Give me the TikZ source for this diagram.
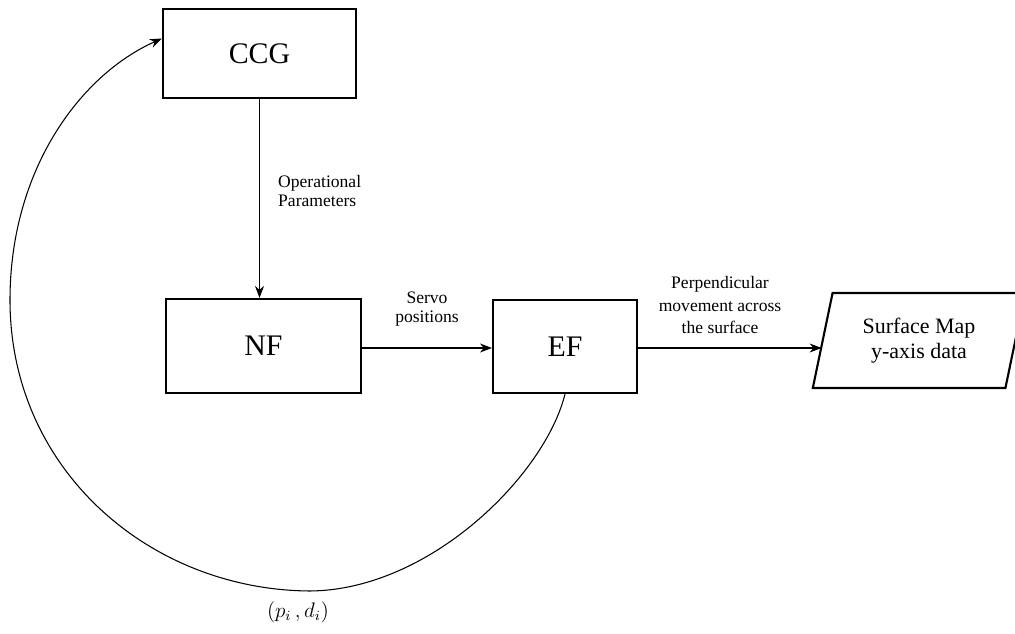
\documentclass[tikz,border=0pt]{standalone}
\usepackage{amsmath,amssymb}
\usepackage{fontspec}
\setmainfont{Liberation Serif}
\usetikzlibrary{arrows.meta,shapes.geometric}

\begin{document}
\begin{tikzpicture}[x=0.02cm, y=-0.02cm, >={Stealth[length=2.4mm,width=1.8mm]},
  box/.style={rectangle, draw, line width=1.2pt, font=\fontsize{17}{20}\selectfont},
  lbl/.style={align=center, font=\fontsize{10}{10.5}\selectfont},
  link/.style={->, line width=0.6pt}]
  \useasboundingbox (0,0) rectangle (1015,634);
  \node[box, minimum width=3.86cm, minimum height=1.78cm] (ccg) at (259.5, 53.5) {CCG};
  \node[box, minimum width=3.9cm, minimum height=1.88cm] (nf) at (263.5, 346) {NF};
  \node[box, minimum width=2.88cm, minimum height=1.86cm] (ef) at (565, 346.5) {EF};
  \node[trapezium, draw, line width=1.2pt, trapezium left angle=76, trapezium right angle=104,
    trapezium stretches=true, minimum width=4.28cm, minimum height=1.9cm, align=center,
    font=\fontsize{12.5}{16}\selectfont] (map) at (919, 340.5) {\raisebox{-6pt}{\shortstack{Surface Map\\y-axis data}}};
  \node[lbl, align=left, anchor=west] (op) at (272, 191) {Operational\\Parameters};
  \node[lbl] (servo) at (427, 309) {Servo\\positions};
  \node[lbl, font=\fontsize{10}{13}\selectfont] (perp) at (720, 305) {Perpendicular\\movement across\\the surface};
  \node (pd) at (298, 612) {\fontsize{12}{14}\selectfont$(p_{i}\,,d_{i})$};
  \draw[link] (ccg.south) -- (ccg.south |- nf.north);
  \draw[link] (nf.east |- 0,348) -- (ef.west |- 0,348);
  \draw[link] (ef.east |- 0,348) -- (map.west |- 0,348);
  \draw[link] (ef.south) .. controls (545,475) and (430,590) .. (310,591)
    .. controls (150,590) and (10,470) .. (10,300)
    .. controls (10,170) and (80,75) .. ([yshift=0.3cm]ccg.west);
\end{tikzpicture}
\end{document}
